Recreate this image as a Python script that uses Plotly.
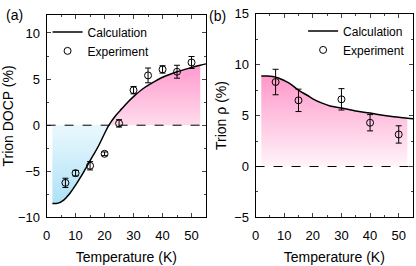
import plotly.graph_objects as go

# ---------------- data ----------------
# Panel (a): Trion DOCP
calc_a_T = [2, 4, 6, 8, 10, 12, 14, 16, 18, 20, 21.5, 24, 26, 28, 30, 33, 36, 40, 45, 50, 53, 55]
calc_a = [-8.5, -8.45, -8.1, -7.4, -6.5, -5.5, -4.4, -3.3, -2.2, -0.9, 0.0, 1.1, 1.8, 2.5, 3.1,
          3.9, 4.5, 5.2, 5.8, 6.25, 6.5, 6.65]
exp_a_T = [6.5, 10, 15, 20, 25, 30, 35, 40, 45, 50]
exp_a = [-6.25, -5.2, -4.4, -3.1, 0.2, 3.8, 5.4, 6.05, 5.8, 6.8]
exp_a_err = [0.5, 0.3, 0.45, 0.2, 0.4, 0.4, 0.8, 0.4, 0.7, 0.65]

# Panel (b): Trion rho
calc_b_T = [2, 4, 6, 8, 10, 12, 15, 18, 20, 23, 26, 30, 35, 40, 45, 50, 53, 55]
calc_b = [8.9, 8.9, 8.85, 8.7, 8.45, 8.15, 7.5, 7.0, 6.65, 6.25, 5.95, 5.75, 5.45, 5.25, 5.0,
          4.85, 4.75, 4.7]
exp_b_T = [7, 15, 30, 40, 50]
exp_b = [8.3, 6.5, 6.6, 4.3, 3.15]
exp_b_err = [1.25, 1.1, 1.05, 0.8, 0.85]

a_neg_end = 21.5   # zero crossing of calculation (a)
fill_end = 53

FONT = "Liberation Sans, Arial, sans-serif"

fig = go.Figure()

# ---- fills panel (a)
neg_T = [t for t in calc_a_T if t <= a_neg_end]
neg_v = [v for t, v in zip(calc_a_T, calc_a) if t <= a_neg_end]
pos_T = [t for t in calc_a_T if a_neg_end <= t <= fill_end]
pos_v = [v for t, v in zip(calc_a_T, calc_a) if a_neg_end <= t <= fill_end]

fig.add_trace(go.Scatter(x=neg_T, y=neg_v, mode="none", fill="tozeroy", line_shape="spline",
                         fillgradient=dict(type="vertical", start=min(neg_v), stop=0,
                                           colorscale=[[0, "#a4def6"], [1, "#e6f6fd"]]),
                         showlegend=False, hoverinfo="skip", xaxis="x", yaxis="y"))
fig.add_trace(go.Scatter(x=pos_T, y=pos_v, mode="none", fill="tozeroy", line_shape="spline",
                         fillgradient=dict(type="vertical", start=0, stop=max(pos_v),
                                           colorscale=[[0, "#ffe3f0"], [1, "#ff9dce"]]),
                         showlegend=False, hoverinfo="skip", xaxis="x", yaxis="y"))

# ---- fill panel (b)
b_T = [t for t in calc_b_T if t <= fill_end]
b_v = [v for t, v in zip(calc_b_T, calc_b) if t <= fill_end]
fig.add_trace(go.Scatter(x=b_T, y=b_v, mode="none", fill="tozeroy", line_shape="spline",
                         fillgradient=dict(type="vertical", start=0, stop=max(b_v),
                                           colorscale=[[0, "#ffffff"], [0.12, "#fff2f8"],
                                                       [1, "#ff9bcc"]]),
                         showlegend=False, hoverinfo="skip", xaxis="x2", yaxis="y2"))

# ---- curves & points
fig.add_trace(go.Scatter(x=calc_a_T, y=calc_a, mode="lines", line=dict(color="black", width=1.5),
                         line_shape="spline", name="Calculation", legend="legend",
                         xaxis="x", yaxis="y"))
fig.add_trace(go.Scatter(x=exp_a_T, y=exp_a, mode="markers", name="Experiment", legend="legend",
                         marker=dict(symbol="circle-open", size=7, color="black",
                                     line=dict(width=1)),
                         error_y=dict(type="data", array=exp_a_err, color="black",
                                      thickness=1, width=3),
                         xaxis="x", yaxis="y"))
fig.add_trace(go.Scatter(x=calc_b_T, y=calc_b, mode="lines", line=dict(color="black", width=1.5),
                         line_shape="spline", name="Calculation", legend="legend2",
                         xaxis="x2", yaxis="y2"))
fig.add_trace(go.Scatter(x=exp_b_T, y=exp_b, mode="markers", name="Experiment", legend="legend2",
                         marker=dict(symbol="circle-open", size=7, color="black",
                                     line=dict(width=1)),
                         error_y=dict(type="data", array=exp_b_err, color="black",
                                      thickness=1, width=3),
                         xaxis="x2", yaxis="y2"))

# zero dashed lines
for xr, yr in (("x domain", "y"), ("x2 domain", "y2")):
    fig.add_shape(type="line", xref=xr, yref=yr, x0=0, x1=1, y0=0, y1=0,
                  line=dict(color="black", width=1, dash="dash"))

def xax(domain):
    return dict(domain=domain, range=[0, 55], dtick=10, tick0=0, ticks="inside", ticklen=4,
                showline=True, linecolor="black", linewidth=1, mirror="ticks",
                showgrid=False, zeroline=False, tickfont=dict(size=13, color="black"),
                ticklabelstandoff=6, ticklabeloverflow="allow",
                minor=dict(ticks="inside", ticklen=2, dtick=5, tick0=0, showgrid=False),
                title=dict(text="Temperature (K)", font=dict(size=14, color="black"), standoff=10))

def yax(domain, rng, title, anchor):
    return dict(domain=domain, range=rng, dtick=5, tick0=0, ticks="inside", ticklen=4,
                showline=True, linecolor="black", linewidth=1, mirror="ticks",
                showgrid=False, zeroline=False, tickfont=dict(size=13, color="black"),
                ticklabelstandoff=3, ticklabeloverflow="allow",
                minor=dict(ticks="inside", ticklen=2, dtick=2.5, tick0=0, showgrid=False),
                title=dict(text=title, font=dict(size=14, color="black"), standoff=4),
                anchor=anchor)

xa = xax([43 / 416, 204 / 416]); xa["anchor"] = "y"
xb = xax([254 / 416, 413 / 416]); xb["anchor"] = "y2"

fig.update_layout(
    width=416, height=266, margin=dict(l=0, r=0, t=0, b=0),
    paper_bgcolor="white", plot_bgcolor="white",
    font=dict(family=FONT, color="black"),
    xaxis=xa, xaxis2=xb,
    yaxis=yax([1 - 223 / 266, 1 - 8 / 266], [-10, 12], "Trion DOCP (%)", "x"),
    yaxis2=yax([1 - 223 / 266, 1 - 7 / 266], [-5, 15.02], "Trion ρ (%)", "x2"),
    legend=dict(x=44 / 416, y=1 - 11 / 266, xanchor="left", yanchor="top",
                bgcolor="rgba(0,0,0,0)", font=dict(size=12), itemwidth=30,
                tracegroupgap=0, traceorder="normal"),
    legend2=dict(x=302 / 416, y=1 - 10 / 266, xanchor="left", yanchor="top",
                 bgcolor="rgba(0,0,0,0)", font=dict(size=12), itemwidth=30,
                 tracegroupgap=0, traceorder="normal"),
    annotations=[
        dict(text="(a)", x=0, y=1 - 9 / 266, xref="paper", yref="paper",
             xanchor="left", yanchor="middle", showarrow=False, font=dict(size=14)),
        dict(text="(b)", x=205 / 416, y=1 - 10 / 266, xref="paper", yref="paper",
             xanchor="left", yanchor="middle", showarrow=False, font=dict(size=14)),
    ],
)

fig.write_html("out.html", config={"displayModeBar": False, "staticPlot": True},
               post_script="document.body.style.margin='0';document.body.style.overflow='hidden';")
